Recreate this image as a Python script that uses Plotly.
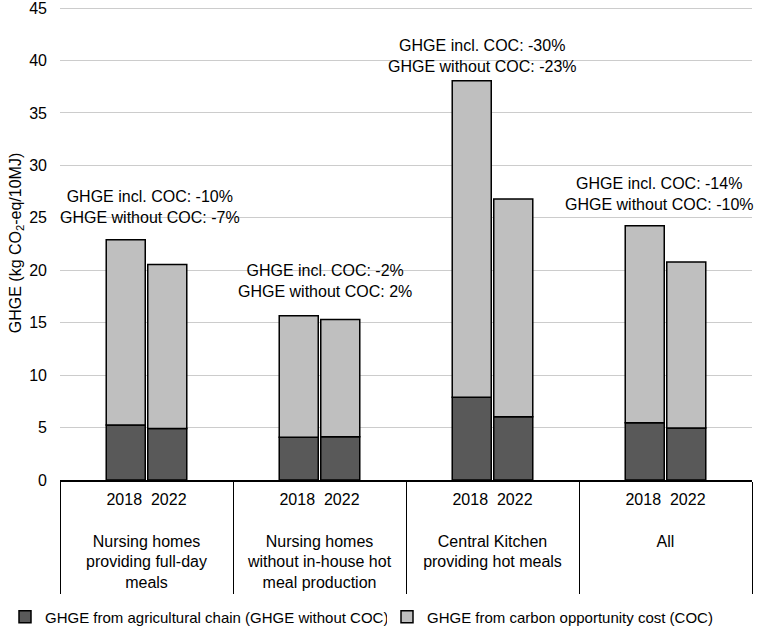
import plotly.graph_objects as go

categories = [
    "Nursing homes<br>providing full-day<br>meals",
    "Nursing homes<br>without in-house hot<br>meal production",
    "Central Kitchen<br>providing hot meals",
    "All",
]
years = ["2018", "2022"]
agri_2018 = [5.24, 4.07, 7.88, 5.45]
agri_2022 = [4.90, 4.13, 6.04, 4.95]
coc_2018 = [17.66, 11.59, 30.19, 18.80]
coc_2022 = [15.66, 11.17, 20.76, 15.83]
change_incl = ["-10%", "-2%", "-30%", "-14%"]
change_without = ["-7%", "2%", "-23%", "-10%"]
y_ticks = [0, 5, 10, 15, 20, 25, 30, 35, 40, 45]

FONT = "Liberation Sans"
DARK = "#595959"
LIGHT = "#bfbfbf"
label_gap = [3.17, 3.36, 2.35, 3.01]
label_xshift = [3, 5, -10, -6]

tick_text = [f"{years[0]}  {years[1]}<br> <br>{c}" for c in categories]

fig = go.Figure()
line = dict(color="black", width=1.5)
fig.add_trace(go.Bar(x=categories, y=agri_2018, offsetgroup="a", marker=dict(color=DARK, line=line),
                     name="GHGE from agricultural chain (GHGE without COC)", legendgroup="agri",
                     legend="legend"))
fig.add_trace(go.Bar(x=categories, y=coc_2018, base=agri_2018, offsetgroup="a", marker=dict(color=LIGHT, line=line),
                     name="GHGE from carbon opportunity cost (COC)", legendgroup="coc",
                     legend="legend2"))
fig.add_trace(go.Bar(x=categories, y=agri_2022, offsetgroup="b", marker=dict(color=DARK, line=line),
                     name="GHGE from agricultural chain (GHGE without COC)", legendgroup="agri", showlegend=False))
fig.add_trace(go.Bar(x=categories, y=coc_2022, base=agri_2022, offsetgroup="b", marker=dict(color=LIGHT, line=line),
                     name="GHGE from carbon opportunity cost (COC)", legendgroup="coc", showlegend=False))

for i, c in enumerate(categories):
    top = max(agri_2018[i] + coc_2018[i], agri_2022[i] + coc_2022[i])
    fig.add_annotation(x=c, y=top + label_gap[i], xref="x", yref="y", xshift=label_xshift[i],
                       text=f"GHGE incl. COC: {change_incl[i]}<br>GHGE without COC: {change_without[i]}",
                       showarrow=False, yanchor="middle", xanchor="center",
                       font=dict(family=FONT, size=16, color="black"))

legend_common = dict(orientation="h", xanchor="left", xref="container", yref="container",
                     y=(628 - 617) / 628, yanchor="middle",
                     font=dict(family=FONT, size=15, color="black"))

fig.update_layout(
    width=762, height=628,
    margin=dict(l=60, r=10, t=6, b=148),
    paper_bgcolor="white", plot_bgcolor="white",
    barmode="group", bargap=0.52, bargroupgap=0.06,
    font=dict(family=FONT, size=16, color="black"),
    showlegend=True,
    legend=dict(x=5 / 762, **legend_common),
    legend2=dict(x=387 / 762, **legend_common),
)
fig.update_xaxes(
    automargin=False, range=[-0.5, 3.5],
    tickmode="array", tickvals=categories, ticktext=tick_text,
    tickson="boundaries", ticks="outside", ticklen=112, tickcolor="black", tickwidth=1,
    ticklabelstandoff=4,
    showline=True, linecolor="black", linewidth=1.5, showgrid=False,
    tickfont=dict(family=FONT, size=16, color="black"),
)
fig.update_yaxes(
    automargin=False,
    range=[0, 45.2], tickvals=y_ticks, showgrid=True, gridcolor="#cccccc", gridwidth=1.3,
    zeroline=False, showline=False, ticklabelstandoff=12, ticklabeloverflow="allow",
    tickfont=dict(family=FONT, size=16, color="black"),
    title=dict(text="GHGE (kg CO<sub>2</sub>-eq/10MJ)", font=dict(family=FONT, size=16, color="black"), standoff=3),
)

fig.write_html("out.html")
